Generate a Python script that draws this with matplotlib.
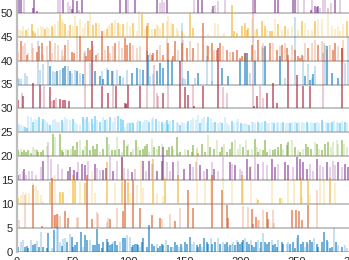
import matplotlib
matplotlib.use("Agg")
import matplotlib.pyplot as plt
from matplotlib.colors import to_rgba

plt.rcParams['font.family'] = ['Liberation Sans', 'DejaVu Sans']

offsets = [0, 5, 10, 15, 20, 25, 30, 35, 40, 45, 50]
row_colors = ['#0072BD', '#D95319', '#EDB120', '#7E2F8E', '#77AC30', '#4DBEEE',
              '#A2142F', '#0072BD', '#D95319', '#EDB120', '#7E2F8E']
x_ticks = [0, 50, 100, 150, 200, 250, 300, 350]
y_ticks = [0, 5, 10, 15, 20, 25, 30, 35, 40, 45, 50]

# ---- row 0 (blue) ----
r0_x = [1.7, 3.8, 5.5, 7.6, 9.1, 10.6, 12.7, 15.1, 16.5, 18.0, 20.4, 21.6, 24.0, 27.0, 28.5, 31.4, 33.5, 35.9, 37.4, 38.9,
        40.4, 41.8, 43.3, 44.8, 47.8, 49.3, 50.8, 52.3, 53.7, 57.6, 59.1, 61.2, 63.3, 65.7, 68.6, 70.1, 71.6, 73.7, 76.1, 77.6,
        80.5, 82.0, 83.5, 85.0, 86.5, 88.0, 90.1, 92.4, 94.8, 96.9, 98.4, 101.4, 102.9, 104.3, 105.8, 107.3, 108.8, 110.3, 111.8, 113.3,
        116.2, 118.6, 120.7, 122.8, 125.2, 126.7, 128.1, 129.6, 131.1, 133.2, 135.6, 137.7, 140.1,
        141.5, 143.0, 145.1, 146.9, 148.0, 150.4, 151.9, 154.9, 157.0, 158.8, 160.8, 162.3, 163.8, 165.3, 167.7, 169.8, 171.3, 173.6,
        174.8, 177.2, 179.6, 181.7, 184.7, 186.1, 187.6, 189.1, 190.6, 192.1, 193.6, 195.1, 196.6, 198.0, 199.5, 201.0, 202.5, 204.0,
        205.5, 207.6, 209.4, 210.5, 212.3, 213.5, 215.3, 217.4, 218.3, 220.4, 221.9, 223.3, 225.4, 227.8, 229.3, 230.8, 232.3, 233.8,
        236.7, 238.2, 241.2, 242.7, 244.2, 247.1, 248.6, 250.1, 251.6, 254.0, 256.1, 257.6, 259.1, 260.5, 262.0, 264.1, 265.9, 268.0,
        269.5, 272.4, 274.8, 276.9, 278.4, 279.9, 281.4, 283.8, 285.0, 287.3, 290.3, 293.3, 294.8]
r0_h = [1.0, 2.1, 2.4, 1.0, 1.2, 0.7, 2.4, 1.4, 1.7, 2.3, 1.0, 4.2, 1.0, 0.7, 4.0, 0.7, 4.5, 5.4, 4.9, 2.1,
        1.2, 2.6, 2.8, 2.1, 3.8, 3.1, 1.0, 1.4, 2.1, 4.2, 1.0, 3.5, 2.4, 2.4, 1.4, 1.4, 4.7, 1.7, 0.7, 2.1,
        2.6, 2.1, 1.4, 1.7, 2.1, 2.3, 1.4, 2.1, 2.8, 2.8, 3.5, 3.1, 1.0, 1.4, 1.7, 1.7, 1.4, 1.0, 2.1, 2.8,
        1.0, 5.6, 1.7, 1.2, 1.7, 0.7, 1.2, 1.7, 1.4, 2.4, 1.4, 1.0, 1.0,
        2.1, 1.4, 1.0, 1.7, 1.0, 2.1, 1.7, 3.1, 1.7, 2.1, 1.4, 1.0, 1.7, 1.0, 2.8, 2.1, 1.7, 2.8,
        1.7, 2.1, 2.8, 1.7, 2.1, 1.7, 2.1, 1.0, 1.4, 1.7, 2.1, 1.4, 2.4, 2.1, 1.7, 2.1, 2.4, 2.8,
        2.1, 1.7, 2.4, 1.4, 1.0, 2.1, 2.4, 0.7, 2.1, 4.0, 2.1, 1.7, 2.1, 2.4, 1.4, 1.7, 1.0, 2.4,
        2.1, 1.7, 1.7, 2.1, 1.7, 2.1, 0.7, 2.8, 3.5, 1.7, 2.1, 1.0, 2.1, 1.7, 2.4, 2.1, 2.8, 1.7,
        1.0, 2.1, 4.2, 2.4, 2.1, 0.7, 1.0, 5.0, 2.1, 1.4, 1.0, 1.4, 0.7]
r0_a = ("dlldddlddldldddldllldlldldddddlddldddddd"
        "ddddlddlddlldddddlddddddldddd"
        "lddlddldldddlldddldddlddldlddldlldl"
        "ddddlddldddlldldddldddlddl"
        "ldddldddldlddldddddlddldldl"
        "ldddldldlldddldldl")

# ---- row 5 (orange) ----
r5_x = [0.8, 2.3, 7.6, 15.1, 22.5, 31.4, 33.5, 34.4, 35.9, 37.4, 38.9, 43.3, 46.3, 53.7, 55.2, 62.7, 67.1, 71.6, 73.1, 80.5,
        82.0, 83.5, 89.5, 95.4, 96.9, 104.3, 110.3, 120.7, 128.1, 129.6, 137.1,
        141.5, 146.0, 153.4, 157.9, 174.8, 183.2, 187.6, 189.1, 202.5, 206.4, 210.5, 211.4, 213.5, 215.3, 216.5, 220.4, 223.3, 224.8,
        228.7, 230.2, 246.3, 249.5, 252.5, 255.2, 260.0, 268.0]
r5_h = [1.7, 1.7, 6.9, 8.9, 0.4, 10.5, 2.8, 2.7, 2.9, 2.8, 2.5, 3.5, 2.1, 2.1, 2.3, 11.0, 1.9, 3.3, 3.0, 1.2,
        2.1, 1.8, 4.2, 3.5, 10.0, 10.0, 4.2, 2.8, 2.0, 1.8, 3.0,
        1.5, 4.2, 8.0, 4.2, 11.0, 8.0, 4.7, 2.1, 4.5, 4.4, 4.0, 0.9, 2.3, 1.6, 1.6, 3.8, 3.3, 1.9,
        3.8, 1.0, 3.7, 3.7, 3.5, 1.7, 4.7, 8.0]
r5_a = "llldddlddllddllddlllldlddddddlld" "lddddddlldddlllddlldddddl"

# ---- row 10 (yellow) ----
r10_x = [1.7, 3.8, 6.1, 8.5, 11.5, 15.1, 17.4, 19.5, 21.6, 24.0, 29.9, 34.4, 38.9, 40.4, 41.8, 50.8, 52.3, 56.7, 61.2, 67.1,
         70.1, 81.0, 88.0, 94.5, 99.9, 101.4, 107.3, 110.9, 113.3, 121.5, 125.2, 131.1, 132.6,
         144.5, 160.8, 168.3, 173.6, 184.7, 192.7, 201.0, 202.5, 209.4, 214.4, 215.9, 228.4, 235.2, 236.7, 242.7, 247.7, 254.0,
         255.2, 259.9, 262.0, 271.0, 274.5, 279.9, 284.3]
r10_h = [1.25, 1.9, 2.6, 2.3, 2.3, 4.4, 3.7, 3.0, 1.9, 0.55, 4.5, 6.0, 2.6, 2.3, 2.6, 6.0, 5.3, 4.5, 4.4, 7.0,
         2.3, 8.7, 4.4, 9.8, 4.7, 2.3, 4.0, 9.0, 3.3, 9.4, 2.3, 1.6, 5.5,
         6.0, 12.0, 5.5, 5.5, 5.5, 5.2, 6.0, 5.3, 8.0, 1.25, 0.9, 5.2, 1.25, 1.25, 5.5, 5.2, 5.5,
         1.25, 5.2, 1.9, 5.5, 5.2, 5.5, 4.4]
r10_a = "dllllllllldldldddldlldlddlllldlld" "dllllldllldldllldldllldldd"

# ---- row 15 (purple) ----
r15_x = [1.7, 3.2, 5.5, 6.7, 8.5, 11.5, 13.6, 17.4, 21.6, 24.0, 28.5, 30.5, 37.4, 40.4, 46.3, 47.8, 51.4, 53.7, 55.2, 58.2,
         61.2, 64.2, 70.1, 72.2, 74.6, 77.6, 79.9, 83.5, 86.5, 90.1, 93.9, 96.0, 99.9, 102.9, 105.8, 113.3, 115.6, 118.6, 120.7, 125.2,
         129.6, 131.1, 134.1, 137.1, 140.1,
         144.5, 149.8, 154.9, 157.9, 160.0, 163.8, 167.7, 169.8, 174.2, 176.6, 179.6, 184.7, 190.6, 192.1, 195.1, 199.5, 201.0, 205.5,
         208.5, 212.9, 215.9, 220.4, 223.3, 227.8, 230.8, 233.8, 239.7, 242.7, 247.1, 250.1, 253.1, 256.1, 259.1, 262.0, 265.0, 268.0,
         270.9, 273.9, 276.9, 279.9, 282.9, 284.3, 287.3, 290.3, 293.3, 295.7]
r15_h = [1.0, 1.2, 2.0, 2.4, 1.0, 2.0, 2.0, 1.0, 2.7, 4.1, 8.0, 4.4, 3.4, 2.4, 2.0, 2.7, 2.1, 1.7, 3.75, 3.4,
         3.1, 4.1, 3.4, 2.6, 2.2, 2.2, 2.6, 4.8, 2.0, 4.1, 4.8, 2.6, 2.4, 1.7, 2.4, 4.0, 2.0, 4.1, 3.4, 2.0,
         4.1, 7.0, 3.75, 2.0, 3.75,
         4.1, 2.4, 3.4, 2.7, 3.75, 3.1, 2.0, 2.4, 3.75, 2.4, 2.0, 4.8, 3.75, 3.4, 3.1, 2.4, 2.0, 4.4,
         2.7, 4.8, 3.4, 3.75, 3.1, 4.4, 2.7, 3.4, 3.75, 3.1, 2.7, 4.8, 4.4, 3.75, 2.4, 3.4, 2.0, 4.4,
         3.1, 2.7, 3.75, 2.7, 4.1, 3.1, 3.75, 2.7, 3.4, 2.7]
r15_a = ("dlldllllldllllddddlddldllddldldlldldldldddlldl"
         "ddlldldldlldldllddldllddlddlddddlldlldllldlddlldld")

# ---- row 20 (green) ----
r20_x = [1.7, 2.6, 3.8, 4.9, 6.7, 8.5, 10.6, 12.7, 14.5, 16.5, 18.0, 19.5, 21.6, 24.0, 27.0, 32.3, 34.4, 38.9, 40.4, 41.8,
         44.2, 46.3, 48.4, 50.2, 52.3, 54.3, 56.7, 59.1, 61.2, 63.3, 65.7, 68.0, 70.1, 72.2, 74.6, 77.6, 80.5, 82.9, 85.0, 88.0,
         89.5, 91.8, 93.9, 96.0, 98.4, 99.9, 102.0, 104.3, 106.7, 108.8, 110.3, 112.7, 114.8, 116.2, 118.6, 120.7, 122.8, 125.2, 127.6, 129.6,
         134.1, 136.5, 138.6, 140.1,
         143.0, 144.5, 146.0, 150.4, 153.4, 156.4, 157.9, 160.8, 162.3, 165.3, 168.3, 170.7, 172.7, 176.6, 178.7, 181.7, 183.2, 185.5,
         187.6, 190.6, 192.1, 195.1, 197.5, 199.5, 202.5, 204.6, 207.0, 210.0, 212.9, 214.4, 215.9, 217.4, 220.4, 221.9, 223.3, 226.3,
         229.3, 230.8, 233.8, 236.1, 238.2, 241.2, 242.7, 245.7, 248.6, 251.0, 253.1, 256.1, 258.2, 260.5, 262.9, 266.5, 268.0, 270.1,
         272.4, 275.4, 278.4, 280.8, 282.9, 285.8, 287.3, 290.3, 292.7, 294.8]
r20_h = [1.2, 0.8, 1.5, 0.8, 1.2, 0.8, 1.2, 0.6, 1.9, 1.5, 1.3, 0.8, 0.8, 1.2, 2.2, 4.7, 4.0, 4.7, 1.2, 0.8,
         1.5, 1.2, 1.5, 2.2, 1.2, 2.9, 3.3, 1.2, 2.2, 3.3, 1.2, 2.2, 1.5, 2.6, 0.8, 1.5, 4.0, 2.6, 1.2, 1.2,
         4.0, 1.5, 0.8, 3.3, 2.2, 2.6, 0.8, 1.5, 3.3, 1.9, 1.2, 1.5, 2.2, 2.6, 0.8, 3.6, 1.9, 1.5, 2.2, 2.6,
         1.2, 1.9, 2.2, 1.5,
         4.0, 0.6, 0.9, 1.6, 1.25, 0.9, 2.3, 1.6, 0.6, 2.6, 0.9, 4.4, 1.9, 1.6, 3.3, 0.9, 1.9, 2.6,
         0.9, 1.6, 3.0, 3.3, 1.6, 2.6, 1.9, 3.3, 1.25, 1.6, 3.7, 1.9, 0.9, 1.6, 1.25, 3.3, 0.9, 1.6,
         1.25, 1.6, 1.9, 2.6, 1.6, 2.3, 3.0, 3.3, 1.9, 1.25, 0.9, 1.6, 2.6, 1.9, 1.6, 3.0, 2.6, 1.6,
         1.25, 2.6, 3.0, 1.9, 3.0, 3.3, 2.6, 3.3, 2.6, 1.9]
r20_a = ("dlldddddllddddldldddldldddldldddddlddlddldlddldldlddddlldldldddl"
         "dldldddldddlddlddldddllldldldldldddlddddlddldldldddldldddlllldll")

# ---- row 25 (light blue) ----
r25_x = [1.7, 2.6, 3.8, 6.1, 7.6, 9.7, 10.6, 12.7, 15.1, 16.5, 18.0, 20.4, 22.5, 24.0, 25.5, 27.0, 28.5, 29.9, 32.9, 34.4,
         35.9, 38.3, 40.4, 41.8, 43.3, 44.8, 47.8, 50.2, 52.3, 54.3, 56.7, 59.7, 61.2, 63.3, 65.1, 67.1, 68.6, 70.1, 72.2, 74.6,
         77.0, 79.1, 81.1, 83.5, 86.5, 88.0, 90.9, 93.0, 94.8, 96.9, 98.4, 99.9, 101.4, 102.9, 104.3, 107.3, 108.8, 110.3, 112.7, 114.8,
         116.2, 118.6, 120.7, 122.2, 124.6, 127.6, 129.6, 131.1, 132.6, 134.1, 135.6, 137.1, 140.1,
         143.0, 144.5, 146.0, 147.5, 149.8, 151.9, 153.4, 155.8, 157.9, 160.0, 162.3, 163.8, 165.3, 167.7, 169.8, 171.3, 173.6, 175.7,
         177.2, 179.6, 181.7, 183.8, 186.1, 187.6, 189.7, 192.1, 194.5, 196.6, 198.0, 200.4, 202.5, 204.0, 205.5, 207.6, 210.0, 211.4,
         212.9, 215.3, 217.4, 219.5, 221.9, 223.3, 225.4, 227.8, 230.2, 232.3, 233.8, 236.1, 238.2, 240.3, 242.7, 244.2, 246.3, 248.6,
         250.1, 252.2, 254.6, 257.0, 259.1, 260.5, 262.9, 265.0, 266.5, 268.0, 270.1, 272.4, 273.9, 276.0, 278.4, 279.9, 281.4, 283.8,
         285.8, 287.3, 288.8, 290.9, 293.3, 294.8]
r25_h = [1.5, 1.8, 1.6, 1.25, 1.1, 0.8, 3.5, 3.2, 2.2, 2.8, 2.5, 3.2, 2.2, 2.8, 2.5, 2.2, 1.8, 1.5, 2.5, 2.8,
         2.2, 2.2, 2.5, 2.2, 3.2, 2.8, 2.5, 2.8, 2.2, 1.8, 1.5, 3.2, 2.8, 3.2, 2.2, 2.8, 1.8, 3.5, 2.5, 2.2,
         3.2, 2.5, 2.8, 3.2, 2.2, 3.2, 3.5, 2.8, 2.5, 1.1, 1.8, 2.2, 1.9, 2.2, 1.9, 2.2, 2.5, 2.4, 2.2, 2.5,
         2.6, 2.2, 2.8, 3.2, 2.8, 2.4, 2.2, 1.8, 2.2, 2.5, 1.8, 2.4, 2.6,
         2.2, 1.9, 1.5, 2.2, 1.9, 2.0, 2.4, 2.6, 2.9, 2.6, 3.6, 1.9, 2.7, 3.3, 2.2, 3.1, 2.9, 2.0,
         2.2, 1.9, 2.2, 1.9, 3.3, 2.0, 1.5, 2.4, 1.9, 2.2, 2.7, 1.9, 1.7, 1.9, 1.7, 1.5, 2.2, 2.1,
         1.9, 2.2, 1.9, 2.2, 2.4, 2.0, 1.9, 2.1, 1.9, 2.0, 2.2, 1.9, 2.2, 2.0, 1.9, 2.0, 2.2, 2.1,
         1.9, 2.2, 2.1, 1.9, 2.2, 1.9, 2.2, 1.9, 2.0, 2.2, 1.9, 2.6, 2.1, 2.2, 2.0, 1.9, 2.2, 2.4,
         2.1, 1.9, 2.0, 2.4, 2.2, 2.0]
r25_a = ("llllddlldlldldllldlllldlllldllldldldldld"
         "ldldlldddllldldlldllldlldldllddld"
         "lldllldlllldllldlldlldllldllldlll"
         "dllldlldllldllldlldlldllldllldlldlldld"
         "llldld")

# ---- row 30 (crimson) ----
r30_x = [1.7, 4.6, 6.1, 15.1, 21.0, 24.6, 29.9, 31.4, 33.5, 35.3, 38.9, 41.3, 43.3, 47.2, 61.2, 67.1, 76.1, 82.0, 86.5, 88.9,
         96.9, 97.8, 98.4, 99.9, 110.3, 116.2, 122.8, 125.2, 126.7, 131.1, 135.6,
         146.0, 150.4, 153.4, 157.9, 158.8, 166.8, 180.2, 184.7, 187.6, 210.8, 212.0, 214.4, 217.4, 220.4, 223.3, 229.3, 232.3,
         242.7, 250.1, 256.1, 262.0, 273.9, 290.3]
r30_h = [1.8, 3.3, 2.5, 5.4, 4.8, 4.6, 4.5, 1.5, 1.8, 2.2, 1.9, 1.8, 1.7, 1.5, 12.0, 14.0, 4.6, 3.2, 7.9, 4.7,
         1.1, 1.0, 1.1, 4.8, 4.6, 12.0, 9.0, 3.2, 2.5, 3.2, 4.8,
         10.0, 4.5, 2.8, 4.8, 0.4, 4.6, 12.6, 4.5, 3.2, 25.0, 0.4, 2.5, 4.6, 2.2, 3.2, 5.4, 1.1,
         10.0, 7.0, 4.6, 4.7, 11.5, 12.6]
r30_a = "dldddldldlddddldddldddlddlllldl" "dddldddlllddlldddddddldd"

# ---- row 35 (blue) ----
r35_x = [1.7, 2.6, 3.8, 7.6, 9.7, 19.5, 21.0, 23.4, 28.5, 29.9, 32.3, 34.4, 35.9, 38.9, 41.8, 43.3, 46.3, 47.8, 49.3, 52.3,
         54.3, 56.7, 59.7, 65.7, 70.1, 74.6, 76.1, 77.6, 80.5, 82.0, 85.0, 89.5, 92.4, 94.8, 98.4, 102.9, 107.3, 110.3, 112.7, 116.2,
         117.7, 119.2, 122.2, 125.2, 128.1, 131.1, 135.6, 138.6,
         147.5, 148.9, 150.4, 153.4, 159.4, 162.3, 169.8, 174.2, 174.8, 183.2, 189.1, 199.5, 204.0, 205.5, 208.5, 212.9, 220.4, 221.9,
         235.2, 239.7, 248.6, 256.1, 257.6, 260.5, 262.0, 263.5, 265.0, 266.5, 275.4, 276.9, 281.4, 287.3, 293.3, 295.7]
r35_h = [1.4, 1.25, 1.2, 2.4, 1.7, 9.0, 3.0, 4.2, 5.2, 3.8, 2.8, 2.6, 2.8, 3.1, 3.5, 3.8, 3.8, 2.8, 2.4, 3.1,
         2.8, 2.4, 2.1, 4.5, 2.8, 1.7, 2.8, 1.2, 3.5, 3.1, 2.8, 3.1, 1.7, 1.6, 3.1, 2.4, 3.5, 3.3, 3.1, 7.3,
         6.25, 1.7, 2.1, 2.8, 4.5, 3.5, 5.2, 4.9,
         12.8, 1.4, 1.2, 2.8, 1.4, 2.4, 5.9, 5.2, 0.7, 3.5, 1.7, 4.9, 6.6, 6.6, 2.4, 4.9, 7.6, 8.0,
         5.9, 1.4, 14.2, 5.9, 1.7, 4.2, 1.0, 1.4, 2.1, 3.8, 8.3, 8.0, 2.4, 1.4, 4.5, 10.0]
r35_a = "llllllllldlldlddldlldldlddldlddldllddldldlldddddll" "ldldllldddddldlddllldldldlldddlldll"

# ---- row 40 (orange) ----
r40_x = [1.7, 3.8, 5.5, 7.6, 9.1, 10.6, 13.6, 15.1, 18.0, 20.4, 22.5, 24.0, 27.6, 29.9, 31.4, 34.4, 37.4, 40.4, 41.8, 43.3,
         46.3, 49.3, 51.4, 54.3, 56.7, 60.3, 62.1, 64.2, 65.7, 68.6, 71.0, 73.1, 76.1, 79.1, 82.0, 83.5, 86.5, 88.0, 91.8, 93.9,
         96.9, 98.4, 101.4, 104.3, 107.3, 110.3, 116.2, 119.2, 120.7, 122.2, 125.2, 128.1, 131.1, 134.1, 135.6, 138.6, 140.1,
         141.5, 144.5, 147.5, 148.9, 151.9, 154.9, 157.9, 162.3, 166.8, 169.8, 171.3, 174.2, 176.6, 178.7, 181.7, 184.7, 187.6, 190.6,
         193.6, 196.6, 199.5, 201.0, 204.0, 205.5, 210.0, 212.9, 215.9, 218.9, 220.4, 221.9, 226.3, 229.3, 232.3, 235.2, 236.7, 239.7,
         241.2, 242.7, 245.7, 248.6, 251.0, 253.1, 254.6, 257.6, 260.5, 263.5, 266.5, 269.5, 272.4, 274.8, 276.9, 279.9, 282.9, 284.3,
         287.3, 290.3, 291.8]
r40_h = [1.9, 4.0, 3.0, 3.7, 1.25, 1.6, 3.7, 2.6, 1.9, 3.0, 3.7, 1.25, 3.0, 4.0, 1.6, 3.7, 3.3, 2.3, 0.9, 3.3,
         4.4, 1.9, 1.6, 5.1, 5.1, 1.6, 0.9, 2.6, 2.3, 3.0, 1.25, 1.6, 6.1, 2.3, 3.0, 1.6, 3.0, 3.7, 4.0, 2.6,
         4.7, 3.3, 3.7, 3.3, 2.6, 3.0, 7.2, 1.6, 1.25, 1.6, 2.3, 3.3, 1.25, 4.7, 3.7, 0.55, 0.9,
         4.0, 2.3, 3.7, 4.4, 2.6, 4.0, 2.6, 3.7, 7.8, 3.3, 3.0, 3.7, 2.3, 2.3, 3.7, 3.0, 2.3, 1.9,
         1.9, 2.3, 0.55, 0.9, 1.6, 1.6, 3.3, 2.3, 4.4, 3.0, 3.7, 2.6, 3.7, 3.7, 2.3, 3.0, 3.3, 3.7,
         2.6, 1.25, 3.3, 2.3, 0.9, 0.55, 1.25, 3.7, 2.6, 3.7, 4.4, 3.3, 4.0, 3.7, 2.3, 3.3, 2.3, 3.7,
         3.0, 2.6, 4.4]
r40_a = ("ldlldllldddlldllllldlddldldddldldldlldlldddllldldddldldldd"
         "ldldldldlddlddldldddddldldllldldldlddlddddldlldllllddldldlddl")

# ---- row 45 (yellow) ----
r45_x = [1.7, 3.2, 4.6, 6.1, 8.5, 10.6, 13.6, 15.1, 16.5, 19.5, 21.6, 23.4, 25.5, 27.0, 29.3, 31.4, 32.9, 34.4, 37.4, 38.9,
         40.4, 41.8, 43.3, 46.3, 47.8, 50.2, 52.3, 54.3, 56.7, 59.1, 61.2, 64.2, 65.7, 68.6, 71.0, 74.0, 78.2, 80.5, 82.0, 83.5,
         85.0, 88.0, 90.9, 92.4, 95.4, 98.4, 101.4, 104.3, 107.3, 109.7, 111.8, 114.8, 116.2, 117.7, 120.7, 123.7, 125.2, 126.7, 128.1,
         131.1, 134.1, 135.6, 137.7, 140.1,
         143.0, 144.5, 148.0, 149.8, 154.9, 157.9, 171.3, 177.2, 180.2, 185.5, 192.7, 194.5, 196.6, 201.0, 204.0, 205.5, 207.0,
         210.0, 212.9, 214.4, 218.9, 221.9, 223.3, 226.3, 227.8, 230.8, 233.8, 236.7, 239.7, 242.7, 245.7, 251.6, 254.6, 257.6,
         260.5, 263.5, 266.5, 269.5, 272.4, 278.4, 281.4, 284.3, 287.3, 288.8, 291.8, 294.8]
r45_h = [1.7, 1.5, 1.2, 2.2, 1.5, 1.9, 2.6, 1.2, 0.8, 1.9, 2.2, 2.1, 1.7, 2.1, 1.9, 2.2, 1.9, 2.6, 3.3, 4.7,
         3.6, 3.1, 2.6, 1.5, 2.4, 2.2, 4.3, 2.2, 3.6, 1.9, 2.8, 3.3, 5.0, 2.4, 2.8, 2.8, 1.5, 1.7, 2.2, 2.6,
         2.9, 3.5, 2.8, 2.6, 2.6, 3.1, 2.2, 2.9, 1.2, 5.3, 4.7, 1.7, 2.9, 2.8, 1.7, 1.7, 2.6, 2.2, 1.9,
         2.8, 3.3, 4.3, 2.9, 2.6,
         1.9, 1.2, 1.2, 0.8, 5.0, 1.9, 0.5, 2.9, 2.6, 0.8, 6.7, 1.2, 0.8, 2.2, 2.8, 1.5, 1.9,
         3.6, 1.5, 1.7, 3.3, 2.2, 1.5, 1.2, 1.2, 3.6, 2.6, 1.5, 2.2, 1.9, 2.2, 1.5, 3.3, 2.9,
         1.5, 1.5, 3.3, 3.6, 3.6, 5.7, 2.2, 1.7, 2.2, 1.2, 2.6, 3.3]
r45_a = ("lllldldddllldlldllldlldldlldllldlddlldlldldldlldlldlldldllldllld"
         "lldlddlllldddddddlldddlddldldllldllldlllllllldlld")

# ---- row 50 (purple) ----
r50_x = [2.6, 4.1, 6.7, 15.1, 16.0, 18.6, 37.4, 38.9, 41.8, 46.3, 47.8, 49.3, 50.8, 54.3, 56.1, 58.2, 92.4, 97.8, 99.9, 105.8,
         125.2, 128.1, 130.2, 132.0, 134.1,
         158.8, 161.7, 165.3, 174.8, 175.7, 177.2, 179.6, 186.1, 211.4, 212.9, 230.8, 233.8, 247.1, 248.6, 251.6, 257.0, 262.9,
         264.1, 266.5, 268.0, 269.5, 270.9, 273.9, 275.4, 277.8, 280.8, 284.3, 288.8]
r50_h = [4.0, 4.0, 4.0, 1.0, 4.0, 0.4, 4.0, 4.0, 4.0, 2.2, 1.4, 0.7, 4.0, 2.4, 0.5, 4.0, 4.0, 4.0, 4.0, 4.0,
         4.0, 2.0, 4.0, 2.2, 4.0,
         4.0, 4.0, 4.0, 0.8, 1.4, 1.6, 2.4, 4.0, 4.0, 4.0, 4.0, 4.0, 4.0, 4.0, 4.0, 4.0, 0.5,
         4.0, 1.4, 1.2, 1.4, 1.0, 4.0, 4.0, 1.0, 2.0, 4.0, 4.0]
r50_a = "ddldddlldlldddldddlddllld" "lddldlllldddddlldldddllllldlldd"

rows_x = [r0_x, r5_x, r10_x, r15_x, r20_x, r25_x, r30_x, r35_x, r40_x, r45_x, r50_x]
rows_h = [r0_h, r5_h, r10_h, r15_h, r20_h, r25_h, r30_h, r35_h, r40_h, r45_h, r50_h]
rows_a = [r0_a, r5_a, r10_a, r15_a, r20_a, r25_a, r30_a, r35_a, r40_a, r45_a, r50_a]
alpha_of = {'d': 0.72, 'l': 0.28}

fig = plt.figure(figsize=(3.49, 2.60), dpi=100)
W, H = 349.0, 260.0
x0_px, y0_px = 16.5, 8.2
sx, sy = 1.12, 4.78
xmax, ymax = 350, 56
ax = fig.add_axes([x0_px / W, y0_px / H, xmax * sx / W, ymax * sy / H])
ax.set_xlim(0, xmax)
ax.set_ylim(0, ymax)

for off in offsets:
    ax.axhline(off, color='#b4b4b4', lw=1.1, zorder=1)

for off, col, xs, hs, al in zip(offsets, row_colors, rows_x, rows_h, rows_a):
    n = len(xs)
    cols = [to_rgba(col, alpha_of[al[i]] if i < len(al) else 0.28) for i in range(n)]
    ax.vlines(xs, off, [off + h for h in hs], colors=cols, lw=1.1, zorder=2)

for s in ['top', 'right', 'bottom']:
    ax.spines[s].set_visible(False)
ax.spines['left'].set_color('#bcbcbc')
ax.spines['left'].set_linewidth(1.6)
ax.set_xticks(x_ticks)
ax.set_yticks(y_ticks)
ax.tick_params(axis='both', length=0, labelsize=8, colors='#262626')
ax.tick_params(axis='y', pad=2.5)
ax.tick_params(axis='x', pad=3.5)

fig.savefig('out.png', dpi=100)
